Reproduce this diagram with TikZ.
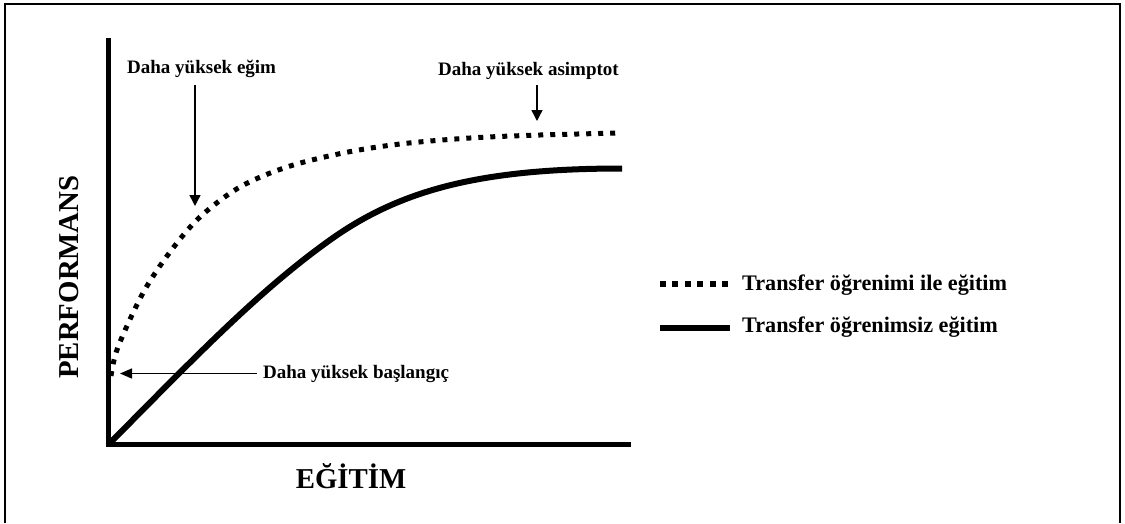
\documentclass[tikz,border=0pt]{standalone}
\usepackage{fontspec}
\setmainfont{Liberation Serif}
\usetikzlibrary{arrows.meta}

\tikzset{
  frameline/.style={line width=2.2pt, line cap=butt},
  axisline/.style={line width=5.5pt},
  withtl/.style={line width=5pt, dash pattern=on 5pt off 7pt, line cap=butt},
  withouttl/.style={line width=6pt, line cap=butt},
  ptr/.style={line width=1.4pt, -{Triangle[length=11pt,width=11pt]}},
  lbl/.style={inner sep=0pt, font=\fontsize{19}{22}\selectfont\bfseries},
  legtext/.style={inner sep=0pt, font=\fontsize{22.2}{25}\selectfont\bfseries},
  axtext/.style={inner sep=0pt, font=\fontsize{28.8}{32}\selectfont\bfseries},
}

\begin{document}
\begin{tikzpicture}[x=1pt, y=-1pt]
\useasboundingbox (0,0) rectangle (1125,523);

% open frame: left, top and right sides
\draw[frameline] (4.7,523) -- (4.7,4.3) -- (1120,4.3) -- (1120,523);

% axes
\coordinate (origin) at (108.5,444.5);
\coordinate (ytop) at (108.5,37.5);
\coordinate (xend) at (631,444.5);
\draw[axisline] (ytop) -- ([yshift=-2.75pt]origin);
\draw[axisline] ([xshift=-2.75pt]origin) -- (xend);

% axis titles
\node[axtext, anchor=base] (xlab) at (351,488) {EĞİTİM};
\node[axtext, rotate=90, anchor=base] (ylab) at (78,277) {PERFORMANS};

% learning curve without transfer
\draw[withouttl] (110,443) .. controls (200,352) and (260,290) .. (330,240)
                 .. controls (400,190) and (480,168.5) .. (622,168.5);

% learning curve with transfer
\draw[withtl] plot[smooth, tension=0.55] coordinates {
  (111,376) (118,347) (143,293) (170,252) (200,217) (240,187) (287,167)
  (343,153) (400,144) (470,138) (540,135) (622,133)};

% annotations
\node[lbl, anchor=base west] (slope) at (127,73) {Daha yüksek eğim};
\node[lbl, anchor=base west] (asym) at (438,75) {Daha yüksek asimptot};
\node[lbl, anchor=base west] (start) at (263,378) {Daha yüksek başlangıç};

\coordinate (slopeA) at (195,85);
\coordinate (slopeB) at (195,206);
\coordinate (asymA) at (537,85);
\coordinate (asymB) at (537,121);
\coordinate (startA) at (257,373.5);
\coordinate (startB) at (120,373.5);
\draw[ptr] (slopeA) -- (slopeB);
\draw[ptr] (asymA) -- (asymB);
\draw[ptr, -{Triangle[length=12pt,width=10pt]}] (startA) -- (startB);

% legend
\coordinate (legA1) at (660,283.7);
\coordinate (legA2) at (728,283.7);
\coordinate (legB1) at (660,328.3);
\coordinate (legB2) at (730,328.3);
\draw[withtl, line width=6pt, dash pattern=on 6pt off 6.4pt] (legA1) -- (legA2);
\draw[withouttl] (legB1) -- (legB2);
\node[legtext, anchor=base west] (leg1) at (742,290.5) {Transfer öğrenimi ile eğitim};
\node[legtext, anchor=base west] (leg2) at (742,332.5) {Transfer öğrenimsiz eğitim};
\end{tikzpicture}
\end{document}
